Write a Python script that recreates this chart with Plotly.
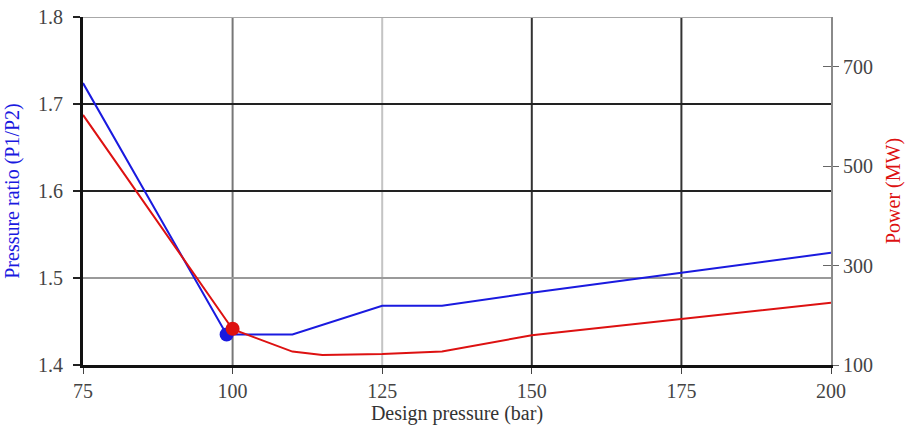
import plotly.graph_objects as go

# Pressure ratio vs. design pressure (left axis)
ratio_x = [75, 99, 110, 125, 135, 150, 175, 200]
ratio_y = [1.724, 1.435, 1.435, 1.468, 1.468, 1.483, 1.506, 1.529]

# Compressor power vs. design pressure (right axis)
power_x = [75, 100, 110, 115, 125, 135, 150, 175, 200]
power_y = [603, 172, 127, 120, 122, 127, 160, 192, 225]

# Highlighted optimum points
ratio_opt = (99, 1.435)
power_opt = (100, 173)

x_ticks = [75, 100, 125, 150, 175, 200]
y_ticks = [1.4, 1.5, 1.6, 1.7, 1.8]
y2_ticks = [100, 300, 500, 700]

# Gridline shades as drawn in the original report figure
v_grid = {100: "#777777", 125: "#c4c4c4", 150: "#333333", 175: "#333333"}
h_grid = {1.5: "#9a9a9a", 1.6: "#222222", 1.7: "#222222", 1.8: "#a8a8a8"}

FONT = "Liberation Serif"
BLUE = "#1a1adf"
RED = "#dd1111"

fig = go.Figure()
fig.add_trace(go.Scatter(x=ratio_x, y=ratio_y, mode="lines",
                         line=dict(color=BLUE, width=2), yaxis="y",
                         showlegend=False, hoverinfo="skip"))
fig.add_trace(go.Scatter(x=power_x, y=power_y, mode="lines",
                         line=dict(color=RED, width=2), yaxis="y2",
                         showlegend=False, hoverinfo="skip"))
fig.add_trace(go.Scatter(x=[ratio_opt[0]], y=[ratio_opt[1]], mode="markers",
                         marker=dict(color=BLUE, size=14), yaxis="y",
                         showlegend=False, hoverinfo="skip"))
fig.add_trace(go.Scatter(x=[power_opt[0]], y=[power_opt[1]], mode="markers",
                         marker=dict(color=RED, size=14), yaxis="y2",
                         showlegend=False, hoverinfo="skip"))

shapes = []
for xv, col in v_grid.items():
    shapes.append(dict(type="line", xref="x", yref="paper", x0=xv, x1=xv,
                       y0=0, y1=1, line=dict(color=col, width=2), layer="below"))
for yv, col in h_grid.items():
    shapes.append(dict(type="line", xref="paper", yref="y", x0=0, x1=1,
                       y0=yv, y1=yv, line=dict(color=col, width=2), layer="below"))

tickfont = dict(family=FONT, size=20, color="#444444")
titlesize = 20

fig.update_layout(
    width=908, height=431,
    margin=dict(l=83, r=77, t=17, b=66),
    paper_bgcolor="white", plot_bgcolor="white",
    font=dict(family=FONT),
    shapes=shapes,
    xaxis=dict(range=[75, 200], tickvals=x_ticks, showgrid=False, zeroline=False,
               automargin=False,
               showline=True, linecolor="#111111", linewidth=3,
               ticks="outside", ticklen=6, tickcolor="#444444", tickwidth=1,
               tickfont=tickfont,
               title=dict(text="Design pressure (bar)", standoff=3,
                          font=dict(family=FONT, size=titlesize, color="#333333"))),
    yaxis=dict(range=[1.4, 1.8], tickvals=y_ticks, tickformat=".1f",
               showgrid=False, zeroline=False, automargin=False,
               showline=True, linecolor="#111111", linewidth=3,
               ticks="outside", ticklen=7, tickcolor="#222222", tickwidth=2,
               ticklabelstandoff=6,
               tickfont=tickfont,
               title=dict(text="Pressure ratio (P1/P2)", standoff=14,
                          font=dict(family=FONT, size=titlesize, color=BLUE))),
    yaxis2=dict(range=[100, 800], tickvals=y2_ticks, overlaying="y", side="right",
                showgrid=False, zeroline=False, automargin=False,
                showline=True, linecolor="#8a8a8a", linewidth=2,
                ticks="outside", ticklen=6, tickcolor="#666666", tickwidth=1,
                tickfont=tickfont,
                title=dict(text="Power (MW)", standoff=14,
                           font=dict(family=FONT, size=titlesize, color=RED))),
    yaxis3=dict(range=[100, 800], tickvals=y2_ticks, overlaying="y", side="right",
                showgrid=False, zeroline=False, showline=False, automargin=False,
                ticks="inside", ticklen=8, tickcolor="#666666", tickwidth=1,
                showticklabels=False),
)

# Empty trace so the inner tick marks of the power axis are drawn
fig.add_trace(go.Scatter(x=[None], y=[None], yaxis="y3", showlegend=False,
                         hoverinfo="skip"))

fig.write_html("out.html")
